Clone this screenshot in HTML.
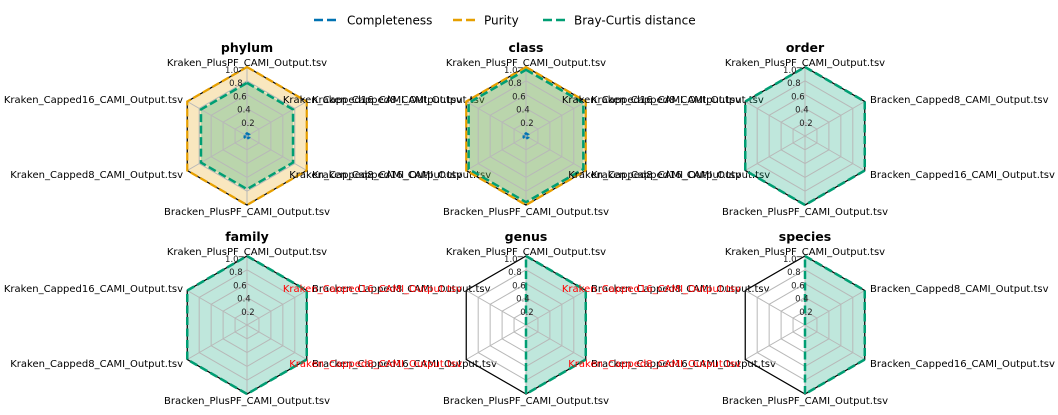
<!DOCTYPE html>
<html><head><meta charset="utf-8">
<style>
html,body{margin:0;padding:0;background:#fff;}
svg{display:block;font-family:"DejaVu Sans","Liberation Sans",sans-serif;}
</style></head>
<body>
<svg id="s" width="1058" height="415" viewBox="0 0 1058 415" xmlns="http://www.w3.org/2000/svg">
<g font-size="12" fill="#000">
<line x1="314" y1="20" x2="338" y2="20" stroke="#0072B2" stroke-width="2.5" stroke-dasharray="9,4"/>
<text x="347" y="24.5">Completeness</text>
<line x1="453" y1="20" x2="477" y2="20" stroke="#E69F00" stroke-width="2.5" stroke-dasharray="9,4"/>
<text x="484" y="24.5">Purity</text>
<line x1="543" y1="20" x2="567" y2="20" stroke="#009E73" stroke-width="2.5" stroke-dasharray="9,4"/>
<text x="574" y="24.5">Bray-Curtis distance</text>
</g>
</svg>
<script>
var s=document.getElementById('s');var NS='http://www.w3.org/2000/svg';
function el(t,a,txt){var e=document.createElementNS(NS,t);for(var k in a)e.setAttribute(k,a[k]);if(txt)e.textContent=txt;s.appendChild(e);return e;}
var R=69;
var ang=[90,30,-30,-90,-150,150];
function pt(cx,cy,v,i){var a=ang[i]*Math.PI/180;return [cx+R*v*Math.cos(a),cy-R*v*Math.sin(a)];}
function poly(cx,cy,vals){return vals.map(function(v,i){return pt(cx,cy,v,i).join(',');}).join(' ');}
var charts=[
 {t:'phylum',cx:247,cy:136,c:[0.04,0.04,0.04,0.04,0.04,0.04],p:[1,1,1,1,1,1],b:[0.77,0.77,0.77,0.77,0.77,0.77],rl:'#000',r:['Kraken_Capped8_CAMI_Output.tsv','Kraken_Capped16_CAMI_Output.tsv']},
 {t:'class',cx:526,cy:136,c:[0.04,0.04,0.04,0.04,0.04,0.04],p:[1,1,1,1,1,1],b:[0.96,0.96,0.96,0.96,0.96,0.96],rl:'#000',r:['Kraken_Capped8_CAMI_Output.tsv','Kraken_Capped16_CAMI_Output.tsv']},
 {t:'order',cx:805,cy:136,c:null,p:null,b:[1,1,1,1,1,1],rl:'#000',r:['Bracken_Capped8_CAMI_Output.tsv','Bracken_Capped16_CAMI_Output.tsv']},
 {t:'family',cx:247,cy:325,c:null,p:null,b:[1,1,1,1,1,1],rl:'#000',r:['Bracken_Capped8_CAMI_Output.tsv','Bracken_Capped16_CAMI_Output.tsv']},
 {t:'genus',cx:526,cy:325,c:null,p:null,b:[1,1,1,1,0,0],rl:'#f00',r:['Bracken_Capped8_CAMI_Output.tsv','Bracken_Capped16_CAMI_Output.tsv']},
 {t:'species',cx:805,cy:325,c:null,p:null,b:[1,1,1,1,0,0],rl:'#f00',r:['Bracken_Capped8_CAMI_Output.tsv','Bracken_Capped16_CAMI_Output.tsv']}
];
charts.forEach(function(ch){
 var cx=ch.cx,cy=ch.cy;
 if(ch.p){el('polygon',{points:poly(cx,cy,ch.p),fill:'#E69F00','fill-opacity':0.25,stroke:'none'});}
 el('polygon',{points:poly(cx,cy,ch.b),fill:'#009E73','fill-opacity':0.25,stroke:'none'});
 for(var k=1;k<=5;k++) el('polygon',{points:poly(cx,cy,[k/5,k/5,k/5,k/5,k/5,k/5]),fill:'none',stroke:'#b8b8b8','stroke-width':1});
 for(var i=0;i<6;i++){var p=pt(cx,cy,1,i);el('line',{x1:cx,y1:cy,x2:p[0],y2:p[1],stroke:'#b8b8b8','stroke-width':1});}
 el('polygon',{points:poly(cx,cy,[1,1,1,1,1,1]),fill:'none',stroke:'#000','stroke-width':1.2});
 if(ch.p){el('polygon',{points:poly(cx,cy,ch.p),fill:'none',stroke:'#E69F00','stroke-width':2.2,'stroke-dasharray':'8,3'});}
 el('polygon',{points:poly(cx,cy,ch.b),fill:'none',stroke:'#009E73','stroke-width':2.5,'stroke-dasharray':'8,3.5'});
 if(ch.c){el('polygon',{points:poly(cx,cy,ch.c),fill:'#0072B2','fill-opacity':0.3,stroke:'#0072B2','stroke-width':2.2,'stroke-dasharray':'3,2'});}
 var tk=['0.2','0.4','0.6','0.8','1.0'];
 for(var k=0;k<5;k++){var v=(k+1)/5;var a=(90+17)*Math.PI/180;
  el('text',{x:cx+R*v*Math.cos(a)+5,y:cy-R*v*Math.sin(a)+3,'font-size':8.5,'text-anchor':'middle',fill:'#222'},tk[k]);}
 el('text',{x:cx,y:cy-84,'font-size':12.5,'font-weight':'bold','text-anchor':'middle'},ch.t);
 el('text',{x:cx,y:cy-70,'font-size':10,'text-anchor':'middle'},'Kraken_PlusPF_CAMI_Output.tsv');
 el('text',{x:cx,y:cy+79,'font-size':10,'text-anchor':'middle'},'Bracken_PlusPF_CAMI_Output.tsv');
 el('text',{x:cx+65,y:cy-33,'font-size':10,'text-anchor':'start'},ch.r[0]);
 el('text',{x:cx+65,y:cy+42,'font-size':10,'text-anchor':'start'},ch.r[1]);
 el('text',{x:cx-64,y:cy-33,'font-size':10,'text-anchor':'end',fill:ch.rl},'Kraken_Capped16_CAMI_Output.tsv');
 el('text',{x:cx-64,y:cy+42,'font-size':10,'text-anchor':'end',fill:ch.rl},'Kraken_Capped8_CAMI_Output.tsv');
});
</script>
</body></html>
